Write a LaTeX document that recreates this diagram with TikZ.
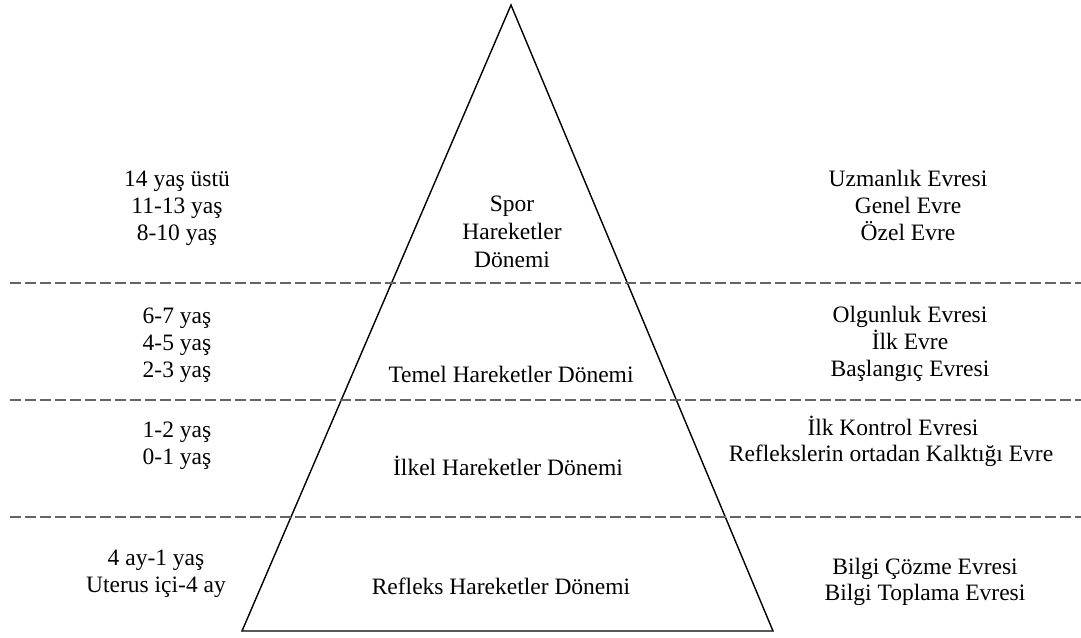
\documentclass[tikz,border=0pt]{standalone}
\usepackage{fontspec}
\setmainfont{Liberation Serif}
\definecolor{dashgray}{RGB}{100,100,100}
\begin{document}
\begin{tikzpicture}[x=1pt,y=-1pt,
  lbl/.style={anchor=base,inner sep=0pt,font=\fontsize{23.5}{27}\selectfont},
  sep/.style={draw=dashgray,line width=2.2pt,dash pattern=on 10.5pt off 4.5pt},
  tri/.style={draw=black,line width=1.4pt,line join=miter}]
\useasboundingbox (0,0) rectangle (1081,637);
% triangle
\coordinate (apex) at (511,5);
\coordinate (bl) at (242,631);
\coordinate (br) at (773,631);
\draw[tri] (apex) -- (bl) -- (br) -- cycle;
% separators
\coordinate (s1l) at (10,283); \coordinate (s1r) at (1081,283);
\coordinate (s2l) at (10,400); \coordinate (s2r) at (1081,400);
\coordinate (s3l) at (10,517); \coordinate (s3r) at (1081,517);
\draw[sep] (s1l) -- (s1r);
\draw[sep] (s2l) -- (s2r);
\draw[sep] (s3l) -- (s3r);
% left column
\node[lbl] (l1a) at (177,186) {14 yaş üstü};
\node[lbl] (l1b) at (177,213) {11-13 yaş};
\node[lbl] (l1c) at (177,240) {8-10 yaş};
\node[lbl] (l2a) at (177,323) {6-7 yaş};
\node[lbl] (l2b) at (177,350) {4-5 yaş};
\node[lbl] (l2c) at (177,377) {2-3 yaş};
\node[lbl] (l3a) at (177,437) {1-2 yaş};
\node[lbl] (l3b) at (177,464) {0-1 yaş};
\node[lbl] (l4a) at (156,565) {4 ay-1 yaş};
\node[lbl] (l4b) at (156,592) {Uterus içi-4 ay};
% centre
\node[lbl] (c1a) at (512,211) {Spor};
\node[lbl] (c1b) at (512,239) {Hareketler};
\node[lbl] (c1c) at (512,267) {Dönemi};
\node[lbl] (c2) at (511,382) {Temel Hareketler Dönemi};
\node[lbl] (c3) at (508,475) {İlkel Hareketler Dönemi};
\node[lbl] (c4) at (501,594) {Refleks Hareketler Dönemi};
% right column
\node[lbl] (r1a) at (908,186) {Uzmanlık Evresi};
\node[lbl] (r1b) at (908,213) {Genel Evre};
\node[lbl] (r1c) at (908,240) {Özel Evre};
\node[lbl] (r2a) at (910,322) {Olgunluk Evresi};
\node[lbl] (r2b) at (910,349) {İlk Evre};
\node[lbl] (r2c) at (910,376) {Başlangıç Evresi};
\node[lbl] (r3a) at (893,435) {İlk Kontrol Evresi};
\node[lbl] (r3b) at (891,461) {Reflekslerin ortadan Kalktığı Evre};
\node[lbl] (r4a) at (925,574) {Bilgi Çözme Evresi};
\node[lbl] (r4b) at (925,600) {Bilgi Toplama Evresi};
\end{tikzpicture}
\end{document}
